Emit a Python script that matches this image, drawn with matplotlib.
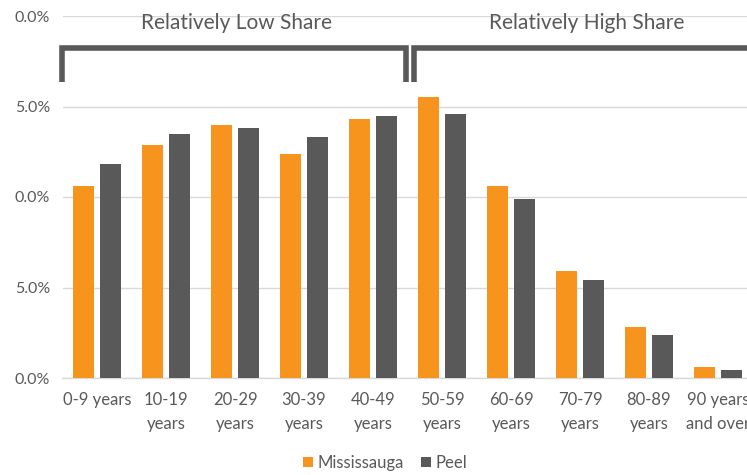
import matplotlib
matplotlib.use("Agg")
import matplotlib.pyplot as plt
import numpy as np

plt.rcParams['font.family'] = ['Lato', 'DejaVu Sans']

age_groups = ["0-9 years", "10-19\nyears", "20-29\nyears", "30-39\nyears", "40-49\nyears",
              "50-59\nyears", "60-69\nyears", "70-79\nyears", "80-89\nyears", "90 years\nand over"]
mississauga = [10.6, 12.9, 14.0, 12.4, 14.3, 15.5, 10.6, 5.9, 2.8, 0.6]
peel = [11.8, 13.5, 13.8, 13.3, 14.5, 14.6, 9.9, 5.4, 2.4, 0.45]
y_ticks = [0, 5, 10, 15, 20]
y_tick_labels = ["0.0%", "5.0%", "0.0%", "5.0%", "0.0%"]
group_labels = ["Relatively Low Share", "Relatively High Share"]

ORANGE = "#F7941D"
GREY = "#595959"
TEXT = "#595959"
GRID = "#D9D9D9"

fig = plt.figure(figsize=(7.47, 4.75), dpi=100)
ax = fig.add_axes([62.5 / 747, 97 / 475, 690 / 747, 362 / 475])

x = np.arange(len(age_groups))
w = 0.30
off = 0.195
ax.bar(x - off, mississauga, width=w, color=ORANGE, label="Mississauga", zorder=3)
ax.bar(x + off, peel, width=w, color=GREY, label="Peel", zorder=3)

ax.set_xlim(-0.5, len(age_groups) - 0.5)
ax.set_ylim(0, 20)
ax.set_yticks(y_ticks)
ax.set_yticklabels(y_tick_labels)
ax.set_xticks(x)
ax.set_xticklabels(age_groups, linespacing=1.6)
ax.tick_params(axis='both', length=0, colors=TEXT)
ax.tick_params(axis='y', pad=9, labelsize=11.5)
ax.tick_params(axis='x', pad=10, labelsize=12)
for lbl in ax.get_xticklabels():
    lbl.set_verticalalignment('top')

ax.yaxis.grid(True, color=GRID, linewidth=1, zorder=0)
for s in ["top", "right", "left"]:
    ax.spines[s].set_visible(False)
ax.spines["bottom"].set_color(GRID)
ax.spines["bottom"].set_linewidth(1)

# Brackets marking the two groups of age bands
bk = dict(color=GREY, linewidth=4, solid_joinstyle='miter', solid_capstyle='butt', clip_on=False, zorder=4)
ax.plot([-0.5, -0.5, 4.48, 4.48], [16.35, 18.25, 18.25, 16.35], **bk)
ax.plot([4.6, 4.6, 9.6], [16.35, 18.25, 18.25], **bk)
ax.text(2.02, 19.6, group_labels[0], ha='center', va='center', fontsize=15, color=TEXT, zorder=5)
ax.text(7.1, 19.6, group_labels[1], ha='center', va='center', fontsize=15, color=TEXT, zorder=5)

leg = fig.legend(loc='center', bbox_to_anchor=(385 / 747, 1 - 463 / 475), ncol=2, frameon=False,
                 fontsize=12, handlelength=0.6, handleheight=0.6, handletextpad=0.3,
                 columnspacing=1.0, labelcolor=TEXT)

fig.savefig("out.png", dpi=100)
